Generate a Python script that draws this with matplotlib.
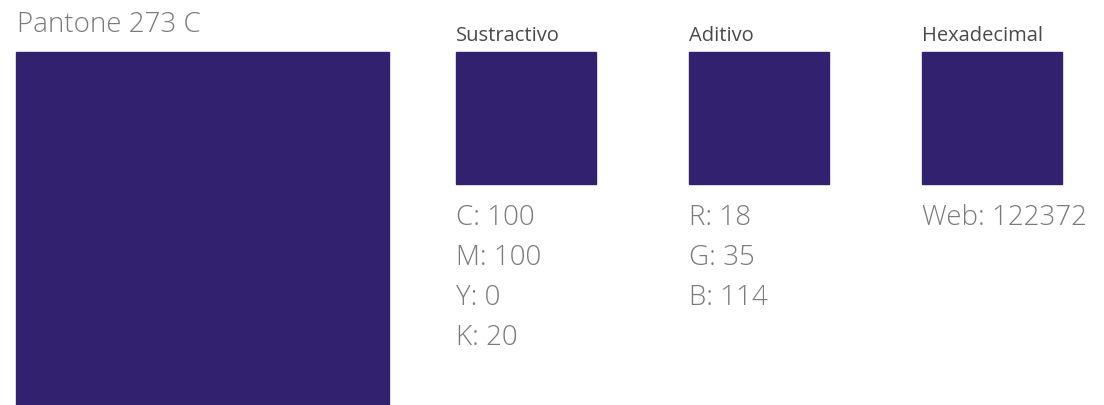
import matplotlib.pyplot as plt
from matplotlib.patches import Rectangle

plt.rcParams['font.family'] = ['Open Sans', 'DejaVu Sans']

# colour data
swatch_color = '#32216F'
title = 'Pantone 273 C'
groups = ['Sustractivo', 'Aditivo', 'Hexadecimal']
group_values = [
    ['C: 100', 'M: 100', 'Y: 0', 'K: 20'],
    ['R: 18', 'G: 35', 'B: 114'],
    ['Web: 122372'],
]

fig = plt.figure(figsize=(11.04, 4.05), dpi=100)
ax = fig.add_axes([0, 0, 1, 1])
ax.set_xlim(0, 1104)
ax.set_ylim(405, 0)
ax.axis('off')

# big swatch
ax.add_patch(Rectangle((16, 52), 373, 360, color=swatch_color))
ax.text(17, 32, title, fontsize=20, color='#7b7b7b', va='baseline', fontweight='light')

# small swatches with labels
lefts = [456, 689, 922]
for x, name, vals in zip(lefts, groups, group_values):
    ax.add_patch(Rectangle((x, 52), 140, 132, color=swatch_color))
    ax.text(x, 41, name, fontsize=14.5, color='#4a4a4a', va='baseline')
    for j, v in enumerate(vals):
        ax.text(x, 225 + 40 * j, v, fontsize=20, color='#7b7b7b', va='baseline',
                fontweight='light')

fig.savefig('out.png', dpi=100)
